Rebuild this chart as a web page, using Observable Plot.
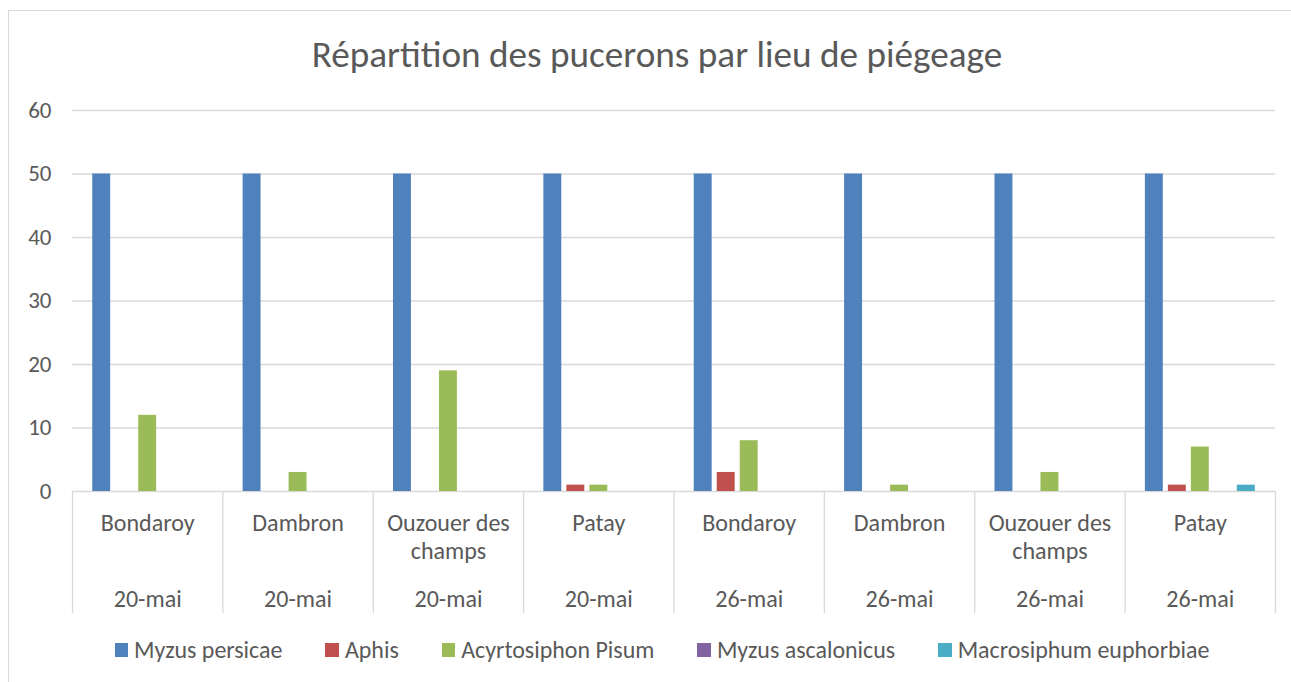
<!DOCTYPE html>
<html>
<head>
<meta charset="utf-8">
<script src="https://cdn.jsdelivr.net/npm/d3@7"></script>
<script src="https://cdn.jsdelivr.net/npm/@observablehq/plot@0.6"></script>
<style>
  html, body { margin: 0; padding: 0; background: #fff; }
  #chart { position: relative; width: 1291px; height: 682px; overflow: hidden; background: #fff; }
  #border { position: absolute; left: 8px; top: 10px; width: 1400px; height: 800px; border: 1.3px solid #d9d9d9; box-sizing: border-box; }
  #plot { position: absolute; left: 0; top: 0; }
  #legend { position: absolute; left: 0; width: 1324px; top: 635px; height: 30px; display: flex; align-items: center; justify-content: center; color: #595959; line-height: 1; }
  .item { display: flex; align-items: center; margin-right: 43px; white-space: nowrap; }
  .item:last-child { margin-right: 0; }
  .sw { width: 13.5px; height: 13.5px; margin-right: 6px; flex: none; }
</style>
</head>
<body>
<div id="chart"><div id="border"></div><div id="plot"></div><div id="legend"></div></div>
<script>
// ---- data ----
const title = "Répartition des pucerons par lieu de piégeage";
const sites = ["Bondaroy", "Dambron", "Ouzouer des champs", "Patay", "Bondaroy", "Dambron", "Ouzouer des champs", "Patay"];
const dates = ["20-mai", "20-mai", "20-mai", "20-mai", "26-mai", "26-mai", "26-mai", "26-mai"];
const series = ["Myzus persicae", "Aphis", "Acyrtosiphon Pisum", "Myzus ascalonicus", "Macrosiphum euphorbiae"];
const myzusPersicae = [50, 50, 50, 50, 50, 50, 50, 50];
const aphis = [0, 0, 0, 1, 3, 0, 0, 1];
const acyrtosiphonPisum = [12, 3, 19, 1, 8, 1, 3, 7];
const myzusAscalonicus = [0, 0, 0, 0, 0, 0, 0, 0];
const macrosiphumEuphorbiae = [0, 0, 0, 0, 0, 0, 0, 1];
const yTicks = [0, 10, 20, 30, 40, 50, 60];

// ---- styles ----
const colors = ["#4F81BD", "#C0504D", "#9BBB59", "#8064A2", "#4BACC6"];
const FONT = "Carlito, Calibri, Lato, sans-serif";
const TEXT = "#595959";
const GRID = "#d9d9d9";

const ctx = document.createElement("canvas").getContext("2d");
function textWidth(t, size) { ctx.font = `${size}px ${FONT}`; return ctx.measureText(t).width; }
function fitSize(t, target) { return 100 * target / textWidth(t, 100); }
const titleSize = fitSize(title, 691);
const labelSize = fitSize("Bondaroy", 94);
const tickSize = fitSize("60", 23.3);
const legendSize = fitSize("Myzus persicae", 148.5);

function wrap(text, maxW, size) {
  const words = text.split(" "), lines = [];
  let cur = "";
  for (const w of words) {
    const t = cur ? cur + " " + w : w;
    if (cur && textWidth(t, size) > maxW) { lines.push(cur); cur = w; } else cur = t;
  }
  lines.push(cur);
  return lines;
}

const valuesBySeries = [myzusPersicae, aphis, acyrtosiphonPisum, myzusAscalonicus, macrosiphumEuphorbiae];
const rows = [];
sites.forEach((site, g) => series.forEach((s, k) => rows.push({g, s, v: valuesBySeries[k][g]})));
const cats = sites.map((site, g) => ({g, lines: wrap(site, 140, labelSize), date: dates[g]}));

const inner = d3.scaleBand().domain(series).range([0, 1]).paddingInner(0.22).paddingOuter(0.88);

const chart = Plot.plot({
  width: 1291,
  height: 625,
  marginLeft: 72,
  marginRight: 16,
  marginTop: 110,
  marginBottom: 12,
  x: {domain: [0, sites.length], axis: null},
  y: {domain: [0, 60], range: [491, 110], axis: null},
  color: {domain: series, range: colors},
  style: {fontFamily: FONT, color: TEXT, background: "transparent", overflow: "visible"},
  marks: [
    Plot.ruleY(yTicks, {y: d => d, stroke: GRID, strokeWidth: 1.3}),
    Plot.rect(rows, {
      x1: d => d.g + inner(d.s),
      x2: d => d.g + inner(d.s) + inner.bandwidth(),
      y1: () => 0,
      y2: "v",
      fill: "s"
    }),
    // category-axis separators, hanging 122px below the baseline
    Plot.ruleX(d3.range(sites.length + 1), {x: d => d, y1: () => 0, y2: () => 0, insetBottom: -122, stroke: GRID, strokeWidth: 1.3}),
    Plot.text(yTicks, {y: d => d, frameAnchor: "left", dx: -21, textAnchor: "end", fontSize: tickSize, fill: TEXT}),
    Plot.text(cats, {x: d => d.g + 0.5, y: () => 0, text: d => d.lines[0], lineAnchor: "bottom", dy: 39.7, fontSize: labelSize, fill: TEXT}),
    Plot.text(cats.filter(d => d.lines.length > 1), {x: d => d.g + 0.5, y: () => 0, text: d => d.lines[1], lineAnchor: "bottom", dy: 67.6, fontSize: labelSize, fill: TEXT}),
    Plot.text(cats, {x: d => d.g + 0.5, y: () => 0, text: "date", lineAnchor: "bottom", dy: 115, fontSize: labelSize, fill: TEXT}),
    Plot.text([title], {frameAnchor: "top", dx: -17, dy: -43.3, lineAnchor: "bottom", fontSize: titleSize, fill: TEXT})
  ]
});
document.getElementById("plot").appendChild(chart);

const legend = d3.select("#legend").style("font-family", FONT).style("font-size", legendSize + "px");
series.forEach((s, k) => {
  const it = legend.append("div").attr("class", "item");
  it.append("div").attr("class", "sw").style("background", colors[k]);
  it.append("span").text(s);
});
</script>
</body>
</html>
